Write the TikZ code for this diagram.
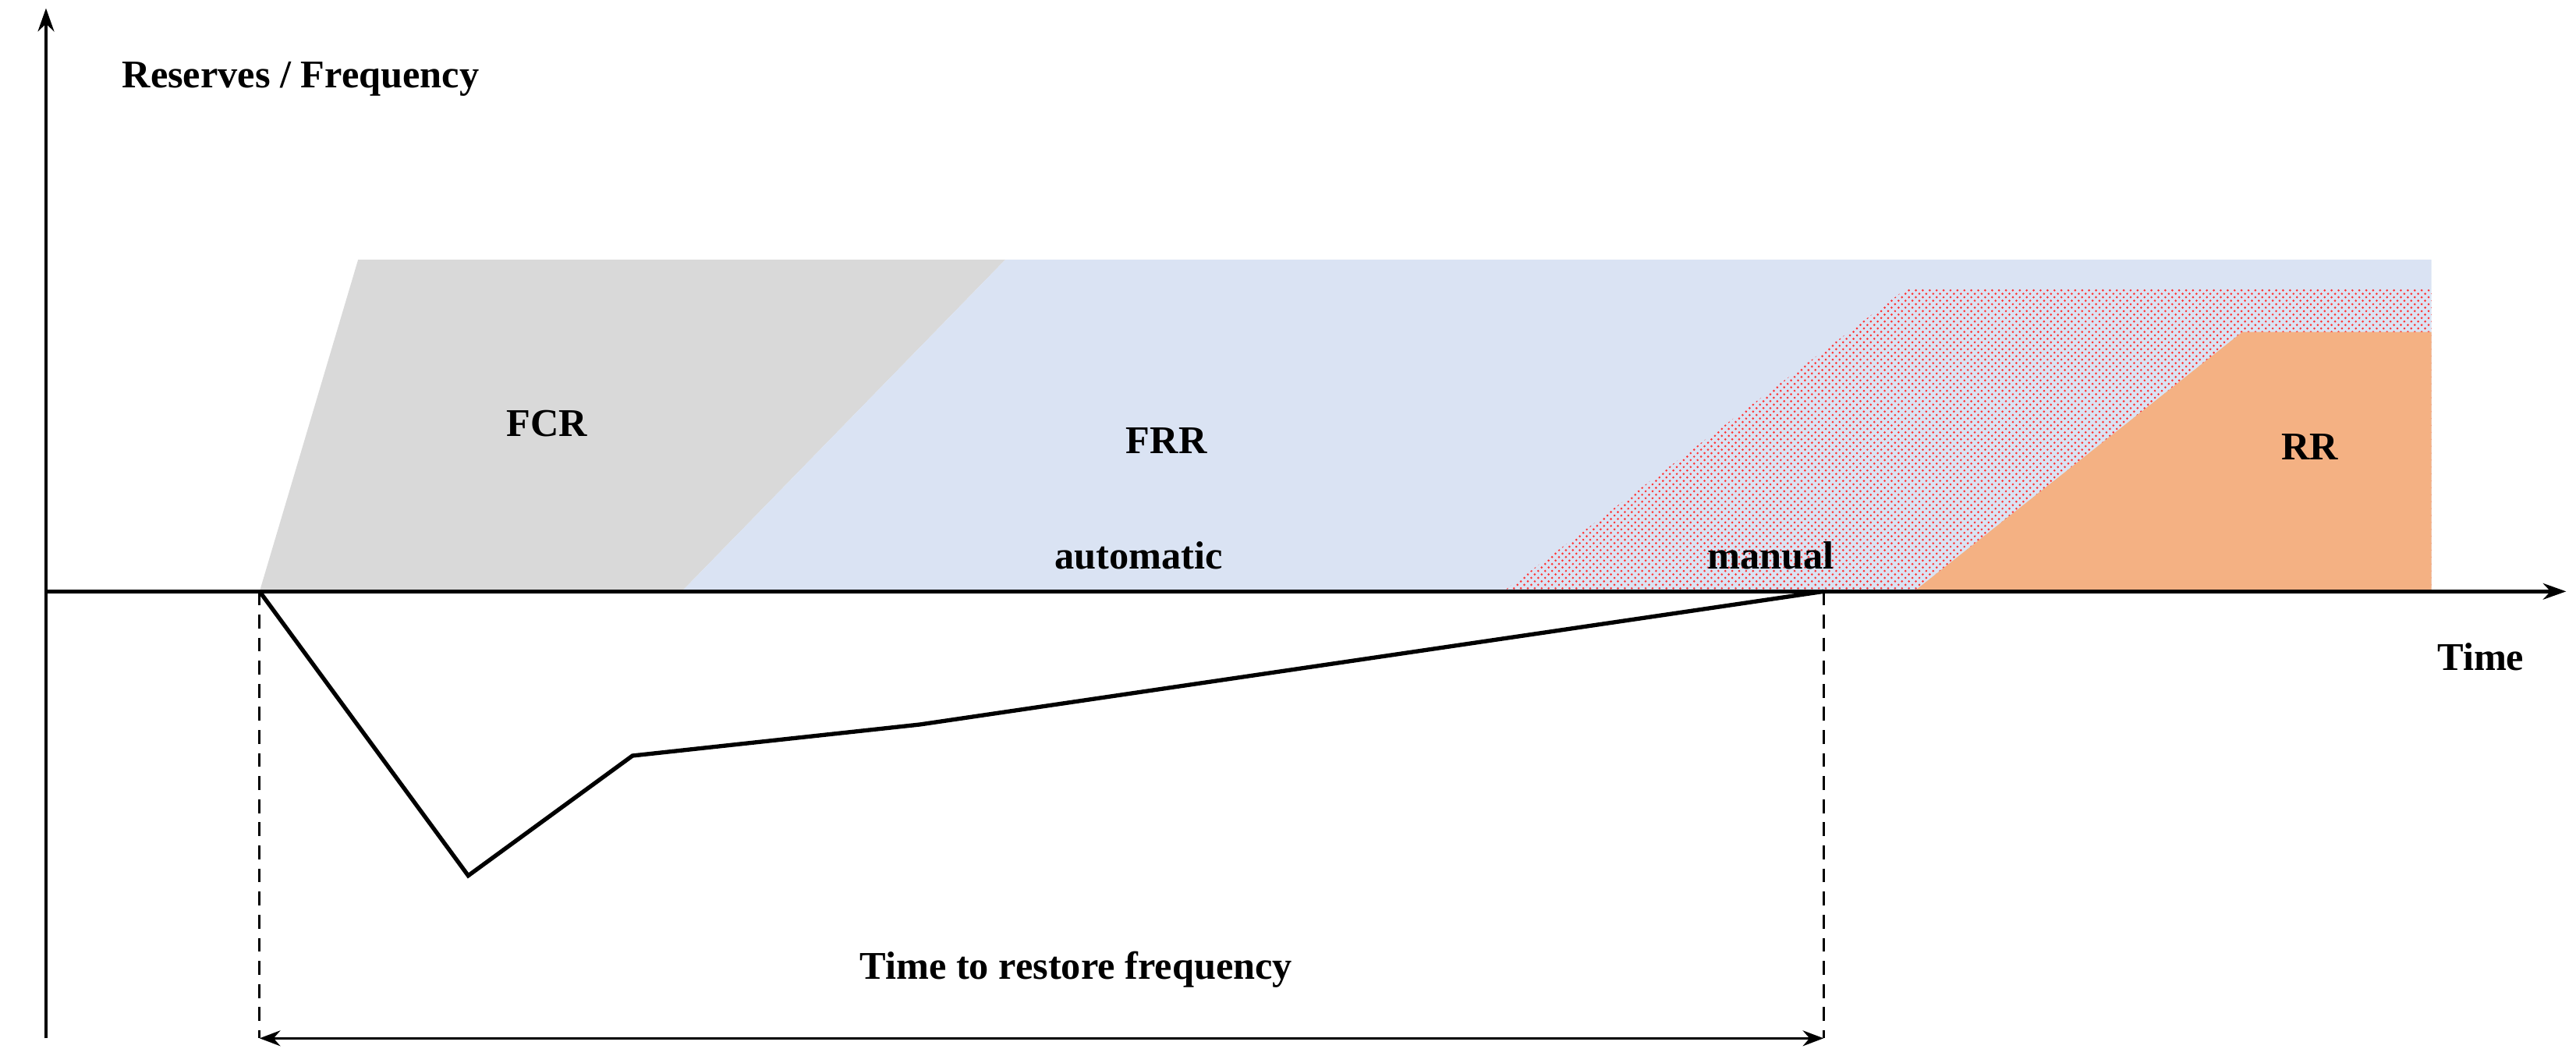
\documentclass[tikz,border=0pt]{standalone}
\usepackage{fontspec}
\setmainfont{Liberation Serif}
\usetikzlibrary{patterns, arrows.meta}
\definecolor{fcrgray}{HTML}{D9D9D9}
\definecolor{frrblue}{HTML}{DAE3F3}
\definecolor{rrorange}{HTML}{F4B183}

\begin{document}
\begin{tikzpicture}[
        x=0.25mm, y=-0.25mm,
        lbl/.style={font=\fontsize{17}{20}\selectfont\bfseries},
        axis/.style={line width=1.6pt, -{Stealth[length=10pt, width=7pt]}},
        curve/.style={line width=1.8pt, line join=miter},
        guide/.style={line width=1pt, dashed, dash pattern=on 6pt off 4pt}
    ]
        \useasboundingbox (0,0) rectangle (1568,647);

        % reserve areas
        \fill[fcrgray] (158,360) -- (218,158) -- (612,158) -- (415,360) -- cycle;
        \fill[frrblue] (415,360) -- (612,158) -- (1480,158) -- (1480,360) -- cycle;
        \fill[pattern=crosshatch dots, pattern color=red!80] (915,360) -- (1160,176) -- (1480,176) -- (1480,360) -- cycle;
        \fill[rrorange] (1165,360) -- (1365,202) -- (1480,202) -- (1480,360) -- cycle;

        % axes
        \coordinate (O) at (28,360);
        \coordinate (ytop) at (28,5);
        \coordinate (ybot) at (28,632);
        \coordinate (xend) at (1562,360);
        \draw[line width=1.6pt] (ybot) -- (O);
        \draw[axis] (O) -- (ytop);
        \draw[axis] (O) -- (xend);

        % frequency deviation
        \coordinate (f0) at (158,360);
        \coordinate (f1) at (285,533);
        \coordinate (f2) at (385,460);
        \coordinate (f3) at (560,441);
        \coordinate (f4) at (1110,360);
        \draw[curve] (f0) -- (f1) -- (f2) -- (f3) -- (f4);

        \coordinate (d0) at (158,632);
        \coordinate (d4) at (1110,632);
        \draw[guide] (f0) -- (d0);
        \draw[guide] (f4) -- (d4);
        \draw[line width=1pt, {Stealth[length=9pt]}-{Stealth[length=9pt]}] (d0) -- (d4);

        % labels
        \node[lbl] (ylab) at (183,48) {Reserves / Frequency};
        \node[lbl] (xlab) at (1510,400) {Time};
        \node[lbl] (fcr) at (333,258) {FCR};
        \node[lbl] (frr) at (710,268) {FRR};
        \node[lbl] (auto) at (693,338) {automatic};
        \node[lbl] (man) at (1078,338) {manual};
        \node[lbl] (rr) at (1406,272) {RR};
        \node[lbl] (trf) at (655,590) {Time to restore frequency};
    \end{tikzpicture}
\end{document}
